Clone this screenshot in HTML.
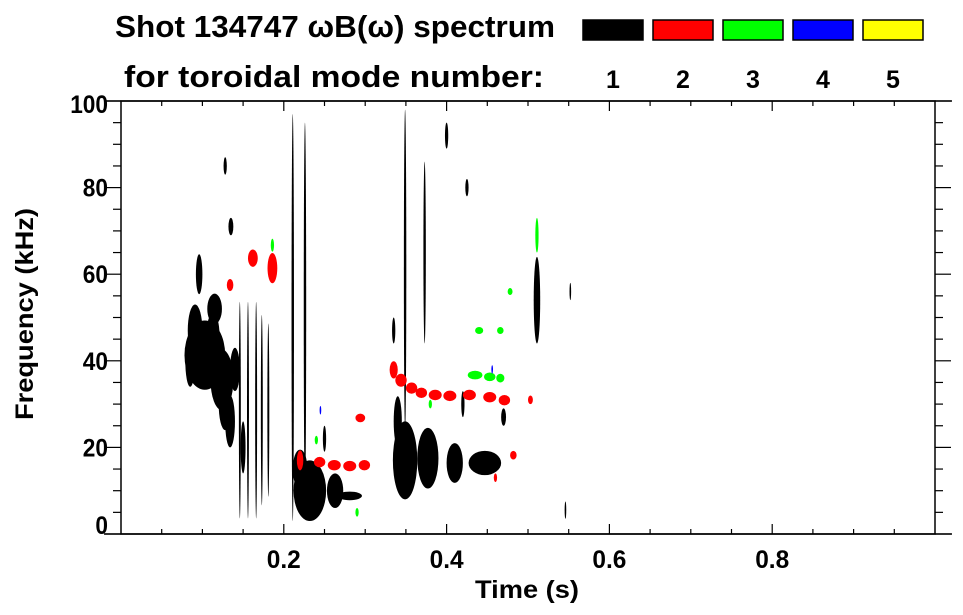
<!DOCTYPE html>
<html><head><meta charset="utf-8"><style>
html,body{margin:0;padding:0;background:#fff;width:963px;height:615px;overflow:hidden}
svg{font-family:"Liberation Sans",sans-serif;font-weight:bold}
</style></head><body>
<svg id="chart" width="963" height="615" viewBox="0 0 963 615" xmlns="http://www.w3.org/2000/svg">
<g>
<text x="115" y="37" font-size="31" textLength="440" lengthAdjust="spacingAndGlyphs">Shot 134747 ωB(ω) spectrum</text>
<text x="124" y="87" font-size="31" textLength="420" lengthAdjust="spacingAndGlyphs">for toroidal mode number:</text>
</g>
<g id="legend"></g>
<g id="marks"></g>
<g id="axes"></g>
</svg>
<script>
// ---- data ----
const modeLabels = ["1","2","3","4","5"];
const modeColors = ["#000000","#ff0000","#00ff00","#0000ff","#ffff00"];
const xTicks = [0.2,0.4,0.6,0.8];
const yTicks = [0,20,40,60,80,100];
// spectral patches: time (s), frequency (kHz), half-width (s), half-height (kHz), mode index
const patchT  = [0.103,0.091,0.124,0.115,0.134,0.096,0.146,0.156,0.166,0.173,0.181,0.211,0.226,0.232,0.220,0.263,0.281,0.349,0.377,0.410,0.447,0.340,0.349,0.373,0.511,0.085,0.113,0.128,0.140,0.150,0.128,0.135,0.400,0.425,0.552,0.546,0.236,0.250,0.420,0.470,0.335,
 0.186,0.162,0.134,0.220,0.335,0.344,0.357,0.369,0.386,0.404,0.428,0.453,0.471,0.244,0.262,0.281,0.299,0.294,0.482,0.503,0.460,
 0.435,0.453,0.466,0.440,0.466,0.478,0.511,0.186,0.240,0.380,0.290,
 0.456,0.245];
const patchF  = [41.3,47,35.6,52,26,60,28.6,28.6,28.6,28.6,28.6,50,52,10,15,10,8.8,17,17.5,16.4,16.4,26,61,65,54,40,46,30,38,20,85,71,92,80,56,5.5,8,22,30,27,47,
 61.4,63.7,57.5,17,37.9,35.5,33.7,32.6,32.1,31.9,32.1,31.6,30.9,16.6,15.9,15.7,15.9,26.8,18.2,31,13,
 36.7,36.3,36,47,47,56,69,66.7,21.7,30,5,
 38,28.6];
const patchDT = [0.025,0.009,0.014,0.009,0.006,0.004,0.0012,0.0012,0.0012,0.0012,0.0012,0.0015,0.0015,0.020,0.009,0.010,0.015,0.015,0.013,0.010,0.020,0.005,0.0015,0.0015,0.004,0.006,0.008,0.008,0.006,0.003,0.002,0.003,0.002,0.002,0.001,0.001,0.002,0.002,0.002,0.003,0.002,
 0.006,0.006,0.004,0.004,0.005,0.007,0.007,0.007,0.008,0.008,0.008,0.008,0.007,0.007,0.008,0.008,0.007,0.006,0.004,0.003,0.002,
 0.009,0.007,0.005,0.005,0.004,0.003,0.002,0.002,0.002,0.002,0.002,
 0.001,0.001];
const patchDF = [8,6,7,3.5,6,4.6,25,25,25,22,20,47,43,7,4.5,4,1,9,7,4.6,2.8,5.8,37,21,10,6,5,6,5,6,2,2,3,2,2,2,2,3,3,2,3,
 3.5,2,1.4,2.3,2,1.5,1.3,1.2,1.2,1.2,1.2,1.2,1.2,1.2,1.2,1.2,1.2,1,1,1,1,
 1,1,1,0.8,0.8,0.8,4,1.5,1,1,1,
 1,1];
const patchMode=[0,0,0,0,0,0,0,0,0,0,0,0,0,0,0,0,0,0,0,0,0,0,0,0,0,0,0,0,0,0,0,0,0,0,0,0,0,0,0,0,0,
 1,1,1,1,1,1,1,1,1,1,1,1,1,1,1,1,1,1,1,1,1,
 2,2,2,2,2,2,2,2,2,2,2,
 3,3];
// ---- layout ----
const L=121,R=935,T=101,B=534;
const X0=0,X1=1,Y0=0,Y1=100;
const sx=v=>L+(v-X0)/(X1-X0)*(R-L);
const sy=v=>B-(v-Y0)/(Y1-Y0)*(B-T);
const NS="http://www.w3.org/2000/svg";
function mk(tag,attrs,parent){const e=document.createElementNS(NS,tag);for(const k in attrs)e.setAttribute(k,attrs[k]);parent.appendChild(e);return e;}
// legend
const lg=document.getElementById('legend');
modeLabels.forEach((m,i)=>{
  const bx=583+i*70;
  const r=mk('rect',{x:bx,y:20,width:60,height:20,fill:modeColors[i],stroke:'#000','stroke-width':1.5},lg);
  
  
  const t=mk('text',{x:bx+30,y:88,'font-size':25,'text-anchor':'middle'},lg);
  t.textContent=m;
  
  
});
// marks
const mg=document.getElementById('marks');
for(let i=0;i<patchT.length;i++){
  const e=mk('ellipse',{cx:sx(patchT[i]),cy:sy(patchF[i]),rx:Math.max(0.6,(sx(patchDT[i])-sx(0))),ry:Math.max(0.6,sy(0)-sy(patchDF[i])),fill:modeColors[patchMode[i]]},mg);
  
  
}
// axes
const ax=document.getElementById('axes');
mk('rect',{x:L,y:T,width:R-L,height:B-T,fill:'none',stroke:'#000','stroke-width':1.5},ax);
mk('line',{x1:104,y1:T,x2:952,y2:T,stroke:'#000','stroke-width':1.5},ax);
mk('line',{x1:104,y1:B,x2:952,y2:B,stroke:'#000','stroke-width':1.5},ax);
for(let v=0;v<=100;v+=5){
  const y=sy(v),maj=v%20===0,len=maj?16:8;
  mk('line',{x1:L-len,y1:y,x2:L,y2:y,stroke:'#000','stroke-width':1.2},ax);
  mk('line',{x1:R,y1:y,x2:R+len,y2:y,stroke:'#000','stroke-width':1.2},ax);
}
for(let k=1;k<20;k++){
  const v=k*0.05,x=sx(v),maj=k%4===0,len=maj?10:5;
  mk('line',{x1:x,y1:B,x2:x,y2:B-len,stroke:'#000','stroke-width':1.2},ax);
  mk('line',{x1:x,y1:T,x2:x,y2:T+len,stroke:'#000','stroke-width':1.2},ax);
}
yTicks.forEach(v=>{
  const s=String(v);
  const t=mk('text',{x:108,y:sy(v)+9-(v===0?9:0)+(v===100?3:0),'font-size':25,'text-anchor':'end',textLength:s.length*12.6,lengthAdjust:'spacingAndGlyphs'},ax);
  t.textContent=s;
  
  
});
xTicks.forEach(v=>{
  const t=mk('text',{x:sx(v),y:568,'font-size':25,'text-anchor':'middle',textLength:34,lengthAdjust:'spacingAndGlyphs'},ax);
  t.textContent=v.toFixed(1);
  
  
});
const xt=mk('text',{x:527,y:598,'font-size':25,'text-anchor':'middle',textLength:104,lengthAdjust:'spacingAndGlyphs'},ax);
xt.textContent='Time (s)';


const yt=mk('text',{x:0,y:0,'font-size':25,'text-anchor':'middle',textLength:212,lengthAdjust:'spacingAndGlyphs',transform:'translate(33,314) rotate(-90)'},ax);
yt.textContent='Frequency (kHz)';


</script>
</body></html>
